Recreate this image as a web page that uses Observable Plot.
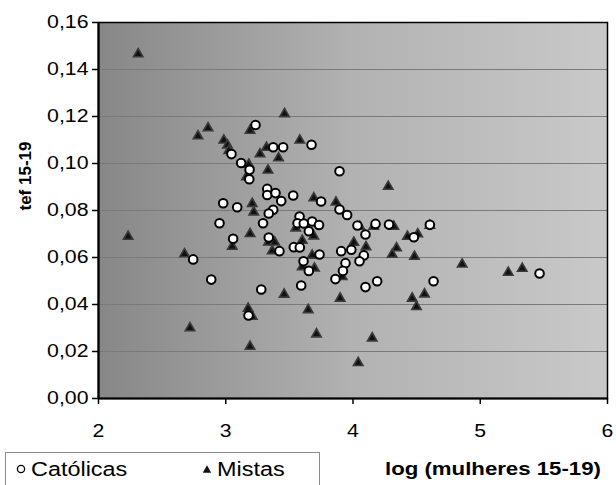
<!DOCTYPE html>
<html><head><meta charset="utf-8">
<script src="https://cdn.jsdelivr.net/npm/d3@7"></script>
<script src="https://cdn.jsdelivr.net/npm/@observablehq/plot@0.6"></script>
<style>
body{margin:0;background:#fff;font-family:"Liberation Sans",Arial,sans-serif;}
#wrap{position:relative;width:616px;height:485px;overflow:hidden;background:#fff}
#bottom{position:relative;height:35px}
#legend{position:absolute;left:5px;top:2px;width:315px;height:45px;border:1.5px solid #8c8c8c;box-sizing:border-box;background:#fff;font-size:19.5px;color:#000}
.item{position:absolute;top:5px;display:flex;align-items:center;gap:5px;line-height:22px}
.stretch{display:inline-block;transform:scaleX(1.2);transform-origin:left center}
#xlabel{position:absolute;left:385px;top:8px;font-size:18.5px;font-weight:bold;color:#000;line-height:22px;white-space:nowrap}
</style></head><body>
<div id="wrap"><div id="chart"></div>
<div id="bottom">
  <div id="legend">
    <div class="item" style="left:10px"><svg width="10" height="10"><circle cx="5" cy="5" r="3.6" fill="#fff" stroke="#000" stroke-width="1.3"/></svg><span class="stretch">Católicas</span></div>
    <div class="item" style="left:196px"><svg width="10" height="10"><path d="M5 1.3 L9.2 8.8 L0.8 8.8 Z" fill="#111"/></svg><span class="stretch">Mistas</span></div>
  </div>
  <div id="xlabel"><span class="stretch">log (mulheres 15-19)</span></div>
</div></div>
<script>
// Católicas (circles)
const catX = [3.234,3.045,3.121,3.187,3.185,3.373,3.451,3.674,3.894,3.326,3.326,3.391,3.436,3.530,2.980,3.090,3.373,3.338,2.951,3.293,3.580,3.564,3.613,3.679,3.733,3.653,3.749,3.894,3.954,4.035,4.177,4.283,4.604,3.058,3.338,3.422,3.535,3.582,2.744,2.886,3.279,3.593,3.611,3.653,3.179,3.737,4.098,4.478,3.907,3.987,4.085,3.941,4.051,3.921,3.862,4.098,4.190,4.633,5.466];
const catY = [0.1164,0.1040,0.1002,0.0973,0.0933,0.1069,0.1069,0.1080,0.0967,0.0892,0.0866,0.0874,0.0840,0.0864,0.0831,0.0814,0.0803,0.0787,0.0746,0.0746,0.0774,0.0746,0.0745,0.0753,0.0738,0.0712,0.0838,0.0804,0.0781,0.0736,0.0743,0.0740,0.0739,0.0680,0.0685,0.0627,0.0644,0.0643,0.0592,0.0506,0.0464,0.0481,0.0584,0.0543,0.0353,0.0613,0.0698,0.0686,0.0627,0.0633,0.0609,0.0576,0.0584,0.0543,0.0508,0.0474,0.0499,0.0499,0.0532];
// Mistas (triangles)
const misX = [2.312,2.861,2.782,3.191,3.462,2.985,3.014,3.024,3.320,3.269,3.415,3.582,3.181,3.332,3.163,3.208,3.220,3.692,3.866,4.277,4.053,4.163,4.321,4.604,3.191,3.051,3.336,3.385,3.365,2.676,3.550,3.601,3.692,3.679,3.601,3.697,3.459,3.176,3.208,2.719,3.648,3.713,3.191,4.006,4.102,4.428,4.509,4.342,4.308,4.483,3.915,3.899,4.465,4.499,4.562,4.151,4.041,4.858,5.220,5.330,2.233];
const misY = [0.1466,0.1151,0.1117,0.1140,0.1211,0.1099,0.1078,0.1054,0.1068,0.1040,0.1023,0.1099,0.0996,0.0971,0.0943,0.0829,0.0793,0.0853,0.0835,0.0902,0.0732,0.0732,0.0732,0.0736,0.0701,0.0647,0.0665,0.0665,0.0628,0.0615,0.0725,0.0672,0.0691,0.0609,0.0560,0.0554,0.0443,0.0383,0.0349,0.0300,0.0377,0.0274,0.0221,0.0664,0.0645,0.0689,0.0700,0.0640,0.0613,0.0604,0.0518,0.0426,0.0426,0.0390,0.0444,0.0257,0.0152,0.0571,0.0536,0.0553,0.0689];
const xTicks = [2,3,4,5,6];
const yTicks = [0,0.02,0.04,0.06,0.08,0.10,0.12,0.14,0.16];
const yLabel = "tef 15-19";

const cat = catX.map((x,i)=>({x, y: catY[i]}));
const mis = misX.map((x,i)=>({x, y: misY[i]}));
const fmtY = v => d3.format(".2f")(v).replace(".", ",");
const fmtX = v => d3.format("d")(v);

const chart = Plot.plot({
  width: 616, height: 450,
  marginLeft: 98, marginRight: 9, marginTop: 22, marginBottom: 52,
  style: {fontFamily: "'Liberation Sans', Arial, sans-serif", fontSize: "18px", color: "#000", background: "transparent", overflow: "visible"},
  x: {domain: [2, 6], ticks: xTicks, label: null},
  y: {domain: [0, 0.16], ticks: yTicks, label: null},
  marks: [
    Plot.frame({fill: "url(#bgGrad)", stroke: "none"}),
    Plot.ruleY(yTicks.filter(v => v > 0 && v < 0.16), {stroke: "#7a7a7a", strokeWidth: 1}),
    Plot.frame({stroke: "#000", strokeWidth: 1.5}),
    Plot.ruleX([2], {stroke: "#000", strokeWidth: 2.2}),
    Plot.ruleY([0], {stroke: "#000", strokeWidth: 2.2}),
    Plot.axisX(xTicks, {tickSize: 6, tickPadding: 20, strokeWidth: 1.5, fontSize: 18, tickFormat: fmtX, label: null}),
    Plot.axisY(yTicks, {tickSize: 6, tickPadding: 4, strokeWidth: 1.5, fontSize: 18, tickFormat: fmtY, label: null}),
    Plot.text([yLabel], {frameAnchor: "left", dx: -73, rotate: -90, fontWeight: "bold", fontSize: 17}),
    Plot.dot(mis, {x: "x", y: "y", symbol: "triangle", r: 3.5, fill: "#111", stroke: "#3a3a3a", strokeWidth: 1.6}),
    Plot.dot(cat, {x: "x", y: "y", symbol: "circle", r: 4.3, fill: "#fff", stroke: "#000", strokeWidth: 2})
  ]
});
const defs = d3.select(chart).insert("defs", ":first-child");
const g = defs.append("linearGradient").attr("id", "bgGrad").attr("x1", "0").attr("x2", "1").attr("y1", "0").attr("y2", "0");
g.append("stop").attr("offset", "0%").attr("stop-color", "#878787");
g.append("stop").attr("offset", "50%").attr("stop-color", "#b2b2b2");
g.append("stop").attr("offset", "100%").attr("stop-color", "#c9c9c9");
document.getElementById("chart").appendChild(chart);
// horizontally stretch tick labels like the reference's wide type
d3.select(chart).selectAll('g[aria-label="x-axis tick label"] text, g[aria-label="y-axis tick label"] text').each(function() {
  const w = this.getComputedTextLength();
  this.setAttribute("textLength", (w * 1.18).toFixed(1));
  this.setAttribute("lengthAdjust", "spacingAndGlyphs");
});
</script>
</body></html>
